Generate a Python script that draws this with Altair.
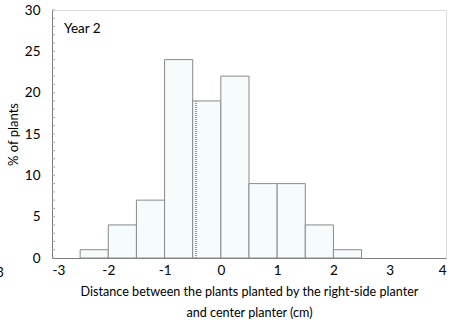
import altair as alt
import pandas as pd

bin_start = [-2.5, -2.0, -1.5, -1.0, -0.5, 0.0, 0.5, 1.0, 1.5, 2.0]
bin_end = [-2.0, -1.5, -1.0, -0.5, 0.0, 0.5, 1.0, 1.5, 2.0, 2.5]
pct = [1, 4, 7, 24, 19, 22, 9, 9, 4, 1]
mean_x = [-0.44]
mean_h = [19]
minor_y = list(range(0, 31))
x_ticks = [-3, -2, -1, 0, 1, 2, 3, 4]
y_ticks = [0, 5, 10, 15, 20, 25, 30]

FONT = "Lato"
df = pd.DataFrame({"start": bin_start, "end": bin_end, "pct": pct})
xs = alt.Scale(domain=[-3, 4], nice=False)
ys = alt.Scale(domain=[0, 30], nice=False)

bars = alt.Chart(df).mark_bar(fill="#f6fcfc", stroke="#8a8a8a", strokeWidth=1).encode(
    x=alt.X("start:Q", scale=xs,
            axis=alt.Axis(values=x_ticks, labelExpr="'' + datum.value",
                          title=["Distance between the plants planted by the right-side planter",
                                 "and center planter (cm)"],
                          grid=False, ticks=False, labelPadding=5, domain=True, domainColor="#7f7f7f",
                          labelFontSize=13.5, labelColor="#000", labelFont=FONT,
                          titleFont=FONT, titleFontSize=12.6, titleFontWeight="normal", titleColor="#000",
                          titlePadding=9, titleLineHeight=21)),
    x2="end:Q",
    y=alt.Y("pct:Q", scale=ys,
            axis=alt.Axis(values=y_ticks, title="% of plants", grid=False, ticks=False,
                          labelPadding=12, domainColor="#7f7f7f",
                          labelFontSize=13.5, labelColor="#000", labelFont=FONT,
                          titleFont=FONT, titleFontSize=13, titleFontWeight="normal", titleColor="#000",
                          titlePadding=4)),
    y2=alt.datum(0),
)

mdf = pd.DataFrame({"x": mean_x, "h": mean_h})
mean_rule = alt.Chart(mdf).mark_rule(color="#9a9a9a", strokeWidth=2, strokeDash=[1, 1]).encode(
    x=alt.X("x:Q", scale=xs), y=alt.Y("h:Q", scale=ys), y2=alt.datum(0)
)

tdf = pd.DataFrame({"y": minor_y})
minor = alt.Chart(tdf).mark_rule(color="#a8a8a8", strokeWidth=1).encode(
    y=alt.Y("y:Q", scale=ys), x=alt.value(0), x2=alt.value(3)
)

label = alt.Chart(pd.DataFrame({"t": ["Year 2"]})).mark_text(
    align="left", baseline="middle", fontSize=13.5, font=FONT, color="#000"
).encode(text="t:N", x=alt.value(12), y=alt.value(19))

stray = alt.Chart(pd.DataFrame({"t": ["3"]})).mark_text(
    align="center", baseline="middle", fontSize=13, font=FONT, color="#000"
).encode(text="t:N", x=alt.value(-52), y=alt.value(263))

chart = alt.layer(bars, mean_rule, minor, label, stray).properties(
    width=394, height=248,
    autosize=alt.AutoSizeParams(type="none"),
    padding={"left": 52, "top": 10, "right": 8, "bottom": 66},
).configure_view(stroke="#8a8a8a", strokeWidth=1).configure(background="white")

chart.save("out.html", embed_options={"renderer": "svg", "actions": False})
